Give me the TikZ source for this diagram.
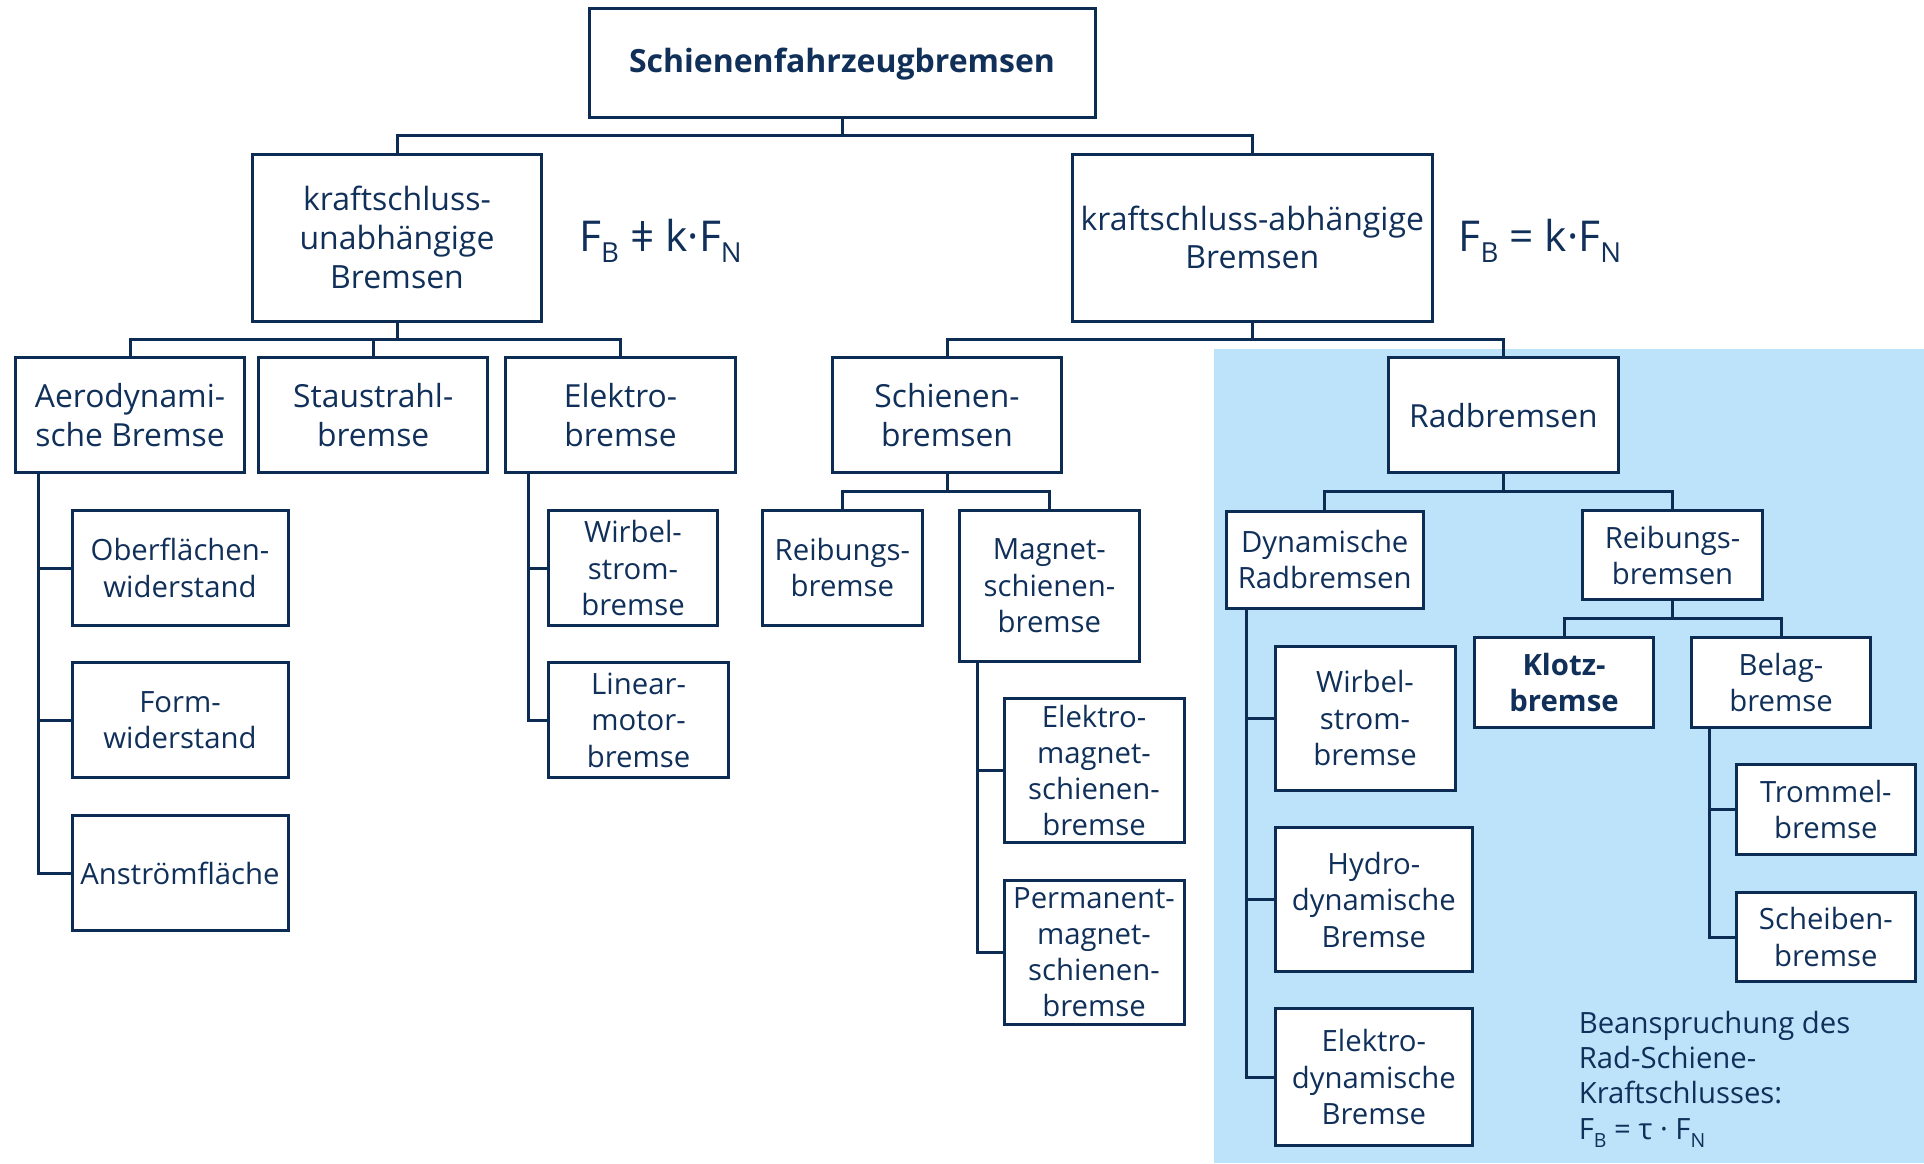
\documentclass[tikz,border=0pt]{standalone}
\usepackage{fontspec}
\setmainfont{Open Sans}
\definecolor{navy}{RGB}{12,44,84}
\definecolor{txt}{RGB}{16,48,90}
\definecolor{lblue}{RGB}{189,227,251}
\newcommand\subx[1]{\raisebox{-0.28em}{\fontsize{27.6}{27.6}\selectfont #1}}
\newcommand\subn[1]{\raisebox{-0.28em}{\fontsize{19.5}{19.5}\selectfont #1}}
\newcommand\nvq{\ooalign{\hfil=\hfil\cr\hfil\rule[0.0em]{0.065em}{0.7em}\hfil}}
\tikzset{
 bx/.style={draw=navy, line width=3pt, fill=white, text=txt, align=center, inner sep=0pt, font=\fontsize{29.3}{36.5}\selectfont},
 bxm/.style={bx, font=\fontsize{31.8}{39}\selectfont},
 bxl/.style={bx, font=\fontsize{32}{38.8}\selectfont},
 conn/.style={draw=navy, line width=3pt, line join=miter},
 formula/.style={text=txt, inner sep=0pt, font=\fontsize{42.5}{42.5}\selectfont},
}
\begin{document}
\begin{tikzpicture}[x=1pt,y=-1pt]
\useasboundingbox (0,0) rectangle (1924,1163);
\fill[lblue] (1213.5,349) rectangle (1924,1163);

% bus coordinates
\coordinate (b0) at (0,135);
\coordinate (b1) at (0,339.3);
\coordinate (b2) at (0,491.5);
\coordinate (b3) at (0,618.3);
\coordinate (tA) at (38.3,0);
\coordinate (tE) at (528.4,0);
\coordinate (tM) at (977.4,0);
\coordinate (tD) at (1246.3,0);
\coordinate (tB) at (1709.7,0);

% level 0
\node[bx, minimum width=506pt, minimum height=109pt, font=\fontsize{32}{38}\selectfont\bfseries] (root) at (842,62.5) {\raisebox{-10.2pt}[0pt][0pt]{Schienenfahrzeugbremsen}};
% level 1
\node[bxl, minimum width=289pt, minimum height=167pt] (kuB) at (397,237.5) {kraftschluss-\\unabhängige\\Bremsen};
\node[bxl, minimum width=360.5pt, minimum height=167pt] (kaB) at (1252.3,237.5) {kraftschluss-abhängige\\Bremsen};
\node[formula, anchor=base west] (f1) at (579,251) {F\subx{B} \nvq{} k·F\subx{N}};
\node[formula, anchor=base west] (f2) at (1458.5,251) {F\subx{B} = k·F\subx{N}};
% level 2
\node[bxm, minimum width=229.4pt, minimum height=115pt] (Aero) at (130,415.2) {Aerodynami-\\sche Bremse};
\node[bxm, minimum width=228.7pt, minimum height=115pt] (Stau) at (373.2,415.2) {Staustrahl-\\bremse};
\node[bxm, minimum width=229.4pt, minimum height=115pt] (Elek) at (620.5,415.2) {Elektro-\\bremse};
\node[bxm, minimum width=228.7pt, minimum height=115pt] (Schi) at (947,415.2) {Schienen-\\bremsen};
\node[bxm, minimum width=230pt, minimum height=115pt] (Rad) at (1503.4,415.2) {Radbremsen};
% under Aero
\node[bx, minimum width=216pt, minimum height=115.4pt] (Ober) at (180,568) {Oberflächen-\\widerstand};
\node[bx, minimum width=216pt, minimum height=115.4pt] (Form) at (180,720) {Form-\\widerstand};
\node[bx, minimum width=216pt, minimum height=115.4pt] (Anst) at (180,873) {Anströmfläche};
% under Elektro
\node[bx, minimum width=168.7pt, minimum height=115.4pt] (WirbE) at (633,568) {Wirbel-\\strom-\\bremse};
\node[bx, minimum width=180pt, minimum height=115.4pt] (Lin) at (638.6,720) {Linear-\\motor-\\bremse};
% under Schienen
\node[bx, minimum width=160pt, minimum height=115.3pt] (ReibS) at (842.4,567.7) {Reibungs-\\bremse};
\node[bx, minimum width=179.5pt, minimum height=151.3pt] (Mag) at (1049.4,585.7) {Magnet-\\schienen-\\bremse};
\node[bx, minimum width=180pt, minimum height=143.5pt, font=\fontsize{29.3}{35.8}\selectfont] (EMag) at (1094,770.5) {Elektro-\\magnet-\\schienen-\\bremse};
\node[bx, minimum width=180pt, minimum height=144pt, font=\fontsize{29.3}{35.8}\selectfont] (PMag) at (1094,952) {Permanent-\\magnet-\\schienen-\\bremse};
% under Rad
\node[bx, minimum width=196.7pt, minimum height=97.3pt] (Dyn) at (1324.7,559.7) {Dynamische\\Radbremsen};
\node[bx, minimum width=179.6pt, minimum height=88.7pt] (ReibR) at (1672.5,555.3) {Reibungs-\\bremsen};
\node[bx, minimum width=178.7pt, minimum height=89.6pt, font=\fontsize{29.3}{36.5}\selectfont\bfseries] (Klotz) at (1564,682.5) {Klotz-\\bremse};
\node[bx, minimum width=179.6pt, minimum height=89.6pt] (Belag) at (1781,682.5) {Belag-\\bremse};
\node[bx, minimum width=180pt, minimum height=144pt] (WirbR) at (1365,718) {Wirbel-\\strom-\\bremse};
\node[bx, minimum width=197pt, minimum height=143.6pt] (Hydro) at (1373.8,899.5) {Hydro-\\dynamische\\Bremse};
\node[bx, minimum width=197pt, minimum height=137pt] (ElDyn) at (1373.8,1077.2) {Elektro-\\dynamische\\Bremse};
\node[bx, minimum width=179.6pt, minimum height=90pt] (Trom) at (1825.8,809.3) {Trommel-\\bremse};
\node[bx, minimum width=179.6pt, minimum height=89.7pt] (Scheib) at (1825.8,937) {Scheiben-\\bremse};

\node[anchor=north west, align=left, inner sep=0pt, text=txt, font=\fontsize{29.3}{35.2}\selectfont] (note) at (1578.6,1011) {Beanspruchung des\\Rad-Schiene-\\Kraftschlusses:\\F\subn{B} = τ · F\subn{N}};

% connectors level 0
\draw[conn] (root.south) -- (root.south |- b0);
\draw[conn] (kuB.north) -- (kuB.north |- b0) -- (kaB.north |- b0) -- (kaB.north);
% kuB children
\draw[conn] (kuB.south) -- (kuB.south |- b1);
\draw[conn] (Aero.north) -- (Aero.north |- b1) -- (Elek.north |- b1) -- (Elek.north);
\draw[conn] (Stau.north) -- (Stau.north |- b1);
% kaB children
\draw[conn] (kaB.south) -- (kaB.south |- b1);
\draw[conn] (Schi.north) -- (Schi.north |- b1) -- (Rad.north |- b1) -- (Rad.north);
% Schienen children
\draw[conn] (Schi.south) -- (Schi.south |- b2);
\draw[conn] (ReibS.north) -- (ReibS.north |- b2) -- (Mag.north |- b2) -- (Mag.north);
% Rad children
\draw[conn] (Rad.south) -- (Rad.south |- b2);
\draw[conn] (Dyn.north) -- (Dyn.north |- b2) -- (ReibR.north |- b2) -- (ReibR.north);
% ReibR children
\draw[conn] (ReibR.south) -- (ReibR.south |- b3);
\draw[conn] (Klotz.north) -- (Klotz.north |- b3) -- (Belag.north |- b3) -- (Belag.north);
% side trunks
\draw[conn] (Aero.south -| tA) |- (Anst.west);
\draw[conn] (Ober.west) -- (Ober.west -| tA);
\draw[conn] (Form.west) -- (Form.west -| tA);
\draw[conn] (Elek.south -| tE) |- (Lin.west);
\draw[conn] (WirbE.west) -- (WirbE.west -| tE);
\draw[conn] (Mag.south -| tM) |- (PMag.west);
\draw[conn] (EMag.west) -- (EMag.west -| tM);
\draw[conn] (Dyn.south -| tD) |- (ElDyn.west);
\draw[conn] (WirbR.west) -- (WirbR.west -| tD);
\draw[conn] (Hydro.west) -- (Hydro.west -| tD);
\draw[conn] (Belag.south -| tB) |- (Scheib.west);
\draw[conn] (Trom.west) -- (Trom.west -| tB);
\end{tikzpicture}
\end{document}
